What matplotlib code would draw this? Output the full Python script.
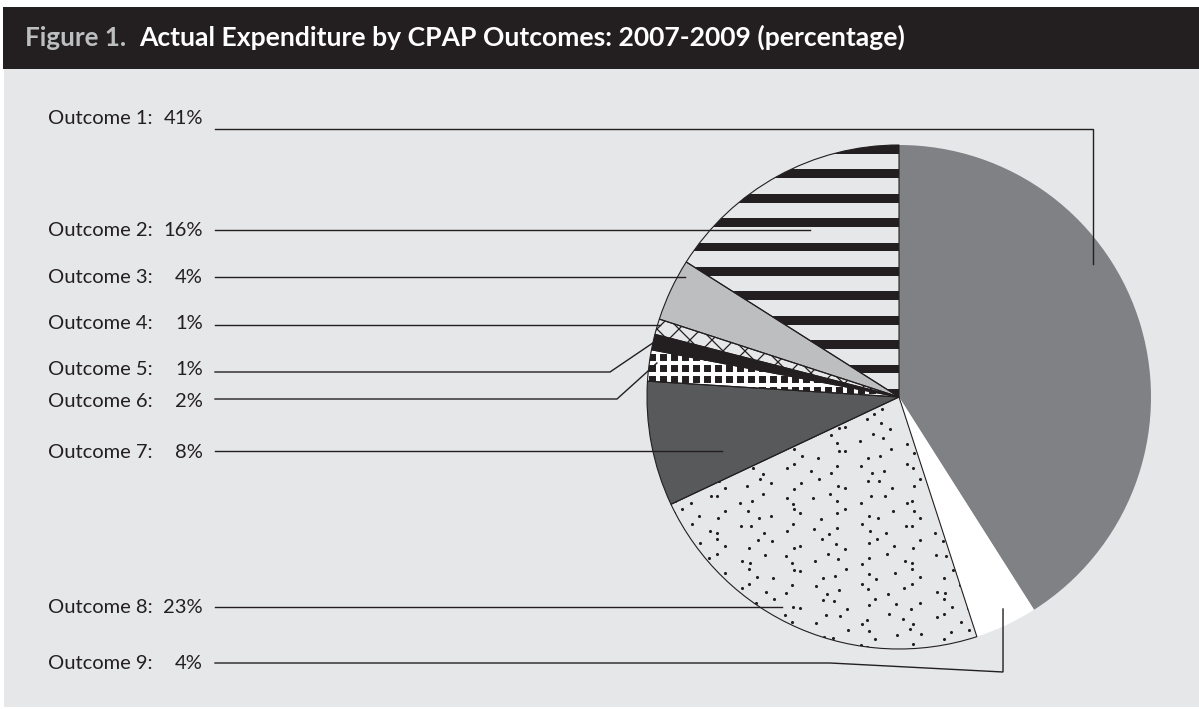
import numpy as np
import matplotlib.pyplot as plt
from matplotlib.patches import Rectangle

# data
outcomes = ['Outcome 1', 'Outcome 2', 'Outcome 3', 'Outcome 4', 'Outcome 5',
            'Outcome 6', 'Outcome 7', 'Outcome 8', 'Outcome 9']
shares = [41, 16, 4, 1, 1, 2, 8, 23, 4]

title_fig = 'Figure 1.'
title_text = 'Actual Expenditure by CPAP Outcomes: 2007-2009 (percentage)'

# colours
dark = '#231f20'
bg = '#e6e7e8'
faces = ['#808184', bg, '#bcbec0', bg, dark, dark, '#58595b', bg, '#ffffff']

W, H = 1199, 709


def Y(px):
    # pixel row (from top) -> data y
    return H - px


fig = plt.figure(figsize=(W / 100, H / 100), dpi=100)
fig.patch.set_facecolor('white')
ax = fig.add_axes([0, 0, 1, 1])

# background + header bar
ax.add_patch(Rectangle((4, Y(707)), W - 4, 707 - 69, fc=bg, ec='none', zorder=0))
ax.add_patch(Rectangle((3, Y(69)), W - 3, 62, fc=dark, ec='none', zorder=0.5))

cx, cy, R = 899, Y(397), 252
start = 90 - 360 * shares[0] / sum(shares)

wedges, _ = ax.pie(shares, colors=faces, startangle=start, counterclock=True,
                   center=(cx, cy), radius=R,
                   wedgeprops=dict(linewidth=0, edgecolor='none', zorder=1))

# --- fill patterns, clipped to their wedge ---
# Outcome 2: horizontal black stripes
period, bar_h = 24.4, 8.8
for k in range(int(2 * R / period) + 1):
    top = cy + R - k * period
    r = Rectangle((cx - R, top - bar_h), 2 * R, bar_h, fc=dark, ec='none', zorder=2)
    ax.add_patch(r)
    r.set_clip_path(wedges[1])

# Outcome 4: cross hatch
for off in np.arange(-2 * R, 2 * R, 22):
    for sgn in (1, -1):
        ln, = ax.plot([cx - R, cx + R], [cy + off - sgn * R, cy + off + sgn * R],
                      color=dark, lw=0.9, zorder=2)
        ln.set_clip_path(wedges[3])

# Outcome 6: black with white grid
for off in np.arange(-R, R, 11):
    lv, = ax.plot([cx + off, cx + off], [cy - R, cy + R], color='white', lw=2.9, zorder=2)
    lh, = ax.plot([cx - R, cx + R], [cy + off, cy + off], color='white', lw=2.9, zorder=2)
    lv.set_clip_path(wedges[5])
    lh.set_clip_path(wedges[5])

# Outcome 8: stipple
step = 15
gx, gy = np.meshgrid(np.arange(cx - R, cx + R, step), np.arange(cy - R, cy + R, step))
gx = gx.astype(float) + (np.arange(gx.shape[0])[:, None] % 2) * step / 2
idx = np.arange(gx.size)
px_ = gx.ravel() + 5 * np.sin(idx * 2.399)
py_ = gy.ravel() + 5 * np.cos(idx * 1.713 + 0.5)
dots = ax.scatter(px_, py_, s=5, c=dark, linewidths=0, zorder=2)
dots.set_clip_path(wedges[7])

# outlines on top
outl, _ = ax.pie(shares, startangle=start, counterclock=True, center=(cx, cy), radius=R,
                 wedgeprops=dict(fill=False, linewidth=0.8, edgecolor=dark, zorder=3))
outl[0].set_edgecolor('none')
outl[8].set_edgecolor('none')

ax.set_xlim(0, W)
ax.set_ylim(0, H)
ax.set_aspect('equal')
ax.axis('off')

# --- labels and leader lines ---
label_base = [124, 236, 283, 329, 375, 407, 458, 613, 669]
leader_frac = [(0.6235, 0.933), (0.487, 0.751), (0.217, 0.973), (0.34, 0.99),
               (0.56, 1.0), (0.39, 0.97), (0.714, 0.734), (0.431, 0.954), (0.565, 0.937)]
font = 'Lato'
x0 = 215


def anchor(i):
    f, rf = leader_frac[i]
    w = wedges[i]
    a = np.deg2rad(w.theta1 + f * (w.theta2 - w.theta1))
    return cx + rf * R * np.cos(a), cy + rf * R * np.sin(a)


for i, name in enumerate(outcomes):
    yb = Y(label_base[i])
    ax.text(48, yb, name + ':', ha='left', va='baseline', fontsize=14.5,
            family=font, color=dark)
    ax.text(203, yb, f'{shares[i]}%', ha='right', va='baseline', fontsize=14.5,
            family=font, color=dark)

    axx, ayy = anchor(i)
    if i == 0:
        xs, ys = [x0, axx, axx], [Y(129), Y(129), ayy]
    elif i == 4:
        xs, ys = [x0, 610, axx], [Y(372), Y(372), ayy]
    elif i == 5:
        xs, ys = [x0, 617, axx], [Y(399), Y(399), ayy]
    elif i == 8:
        xs, ys = [x0, 830, axx, axx], [Y(663), Y(663), Y(672), ayy]
    else:
        xs, ys = [x0, axx], [ayy, ayy]
    ax.plot(xs, ys, color=dark, lw=1.0, solid_joinstyle='miter', zorder=4)

# title, sized to the reference widths
t1 = ax.text(25, Y(46), title_fig, ha='left', va='baseline', fontsize=18,
             family=font, weight='bold', color='#bcbec0')
t2 = ax.text(139, Y(46), title_text, ha='left', va='baseline', fontsize=18,
             family=font, weight='bold', color='white')
rend = fig.canvas.get_renderer()
for t, target in ((t1, 101), (t2, 764)):
    w = t.get_window_extent(rend).width
    t.set_fontsize(18 * target / w)

fig.savefig('out.png', dpi=100)
